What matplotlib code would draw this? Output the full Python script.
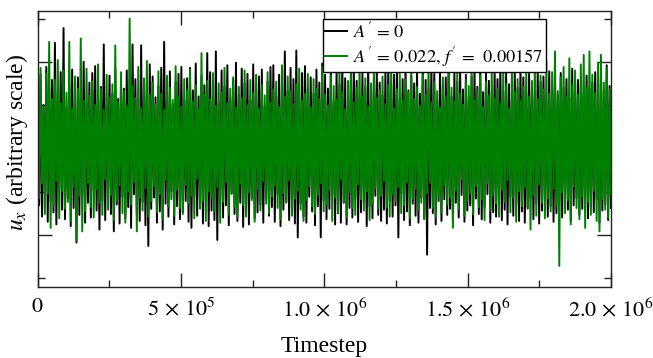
import numpy as np
import matplotlib
matplotlib.use("Agg")
import matplotlib.pyplot as plt
from matplotlib.ticker import MultipleLocator, FixedLocator

# ---- data (per-bin extremes, arbitrary units) ----
n_bins = 200
t_max = 2.0e6

green_hi = [
    0.71, 0.93, 0.48, 0.86, 1.23, 0.57, 0.79, 1.02, 0.52, 0.90,
    0.64, 1.23, 0.46, 0.83, 0.69, 1.27, 0.55, 0.92, 0.61, 0.77,
    0.50, 0.97, 0.68, 0.45, 0.85, 0.59, 0.74, 1.19, 0.53, 0.88,
    0.66, 0.49, 1.50, 0.72, 0.58, 0.94, 0.47, 0.81, 1.01, 0.62,
    0.76, 0.51, 0.89, 0.63, 0.45, 0.84, 0.70, 0.56, 0.95, 0.60,
    0.48, 0.80, 0.67, 0.91, 0.54, 0.73, 0.46, 1.10, 0.62, 0.78,
    0.57, 0.87, 0.49, 0.75, 0.65, 0.93, 0.52, 0.69, 0.82, 0.47,
    0.71, 0.58, 0.90, 0.50, 0.79, 0.64, 0.85, 0.46, 0.73, 0.61,
    0.88, 0.53, 0.68, 0.77, 0.48, 0.96, 0.59, 0.83, 0.66, 0.51,
    0.74, 0.92, 0.55, 0.63, 0.86, 0.47, 0.80, 0.69, 0.57, 0.94,
    0.62, 0.49, 0.84, 0.72, 0.56, 0.91, 0.65, 0.45, 0.78, 0.87,
    0.53, 0.70, 0.97, 0.60, 0.81, 0.48, 0.75, 0.89, 0.58, 0.67,
    0.83, 0.51, 0.73, 0.94, 0.46, 0.68, 0.86, 0.55, 0.79, 0.64,
    0.90, 0.57, 0.71, 0.49, 0.85, 0.62, 0.98, 0.53, 0.76, 0.66,
    0.47, 0.82, 0.60, 0.92, 0.70, 0.54, 0.88, 0.63, 0.50, 0.79,
    0.72, 0.95, 0.56, 0.67, 0.84, 0.48, 0.77, 0.61, 0.89, 0.58,
    0.69, 0.52, 0.87, 0.74, 0.46, 0.93, 0.65, 0.80, 0.55, 0.71,
    0.91, 0.60, 0.78, 0.99, 0.57, 0.84, 0.68, 1.02, 0.63, 0.88,
    1.12, 0.66, 0.82, 0.94, 0.59, 1.04, 0.73, 0.90, 0.62, 0.97,
    1.08, 0.70, 1.12, 0.85, 0.64, 0.99, 1.08, 0.76, 0.93, 0.68,
]
green_lo = [
    -0.58, -0.41, -0.76, -0.52, -0.92, -0.66, -0.38, -0.81, -0.49, -0.70,
    -0.62, -0.84, -0.45, -1.07, -0.55, -0.96, -0.73, -0.40, -0.68, -0.80,
    -0.47, -0.63, -0.77, -0.36, -0.71, -0.54, -0.83, -0.60, -0.43, -0.75,
    -0.86, -0.50, -0.65, -0.39, -0.96, -0.57, -0.72, -0.46, -0.79, -0.61,
    -0.44, -0.74, -0.53, -0.82, -0.37, -0.67, -0.59, -0.78, -0.48, -0.69,
    -0.76, -0.42, -0.64, -0.55, -0.81, -0.35, -0.70, -0.61, -0.84, -0.50,
    -0.57, -0.73, -0.45, -0.86, -0.62, -0.39, -0.77, -0.53, -0.68, -0.80,
    -0.41, -0.66, -0.79, -0.51, -0.60, -0.85, -0.47, -0.72, -0.38, -0.64,
    -0.75, -0.56, -0.43, -0.69, -0.82, -0.52, -0.63, -0.37, -0.78, -0.58,
    -0.49, -0.71, -0.84, -0.60, -0.44, -0.67, -0.76, -0.54, -0.40, -0.73,
    -0.65, -0.48, -0.84, -0.57, -0.74, -0.36, -0.62, -0.80, -0.51, -0.69,
    -0.77, -0.42, -0.59, -0.72, -0.50, -0.83, -0.64, -0.46, -0.70, -0.55,
    -0.38, -0.68, -0.79, -0.53, -0.61, -0.45, -0.75, -0.66, -0.39, -0.81,
    -0.58, -0.47, -0.71, -0.63, -0.82, -0.52, -0.40, -0.69, -0.80, -0.56,
    -0.74, -0.43, -0.65, -0.57, -0.92, -0.49, -0.70, -0.36, -0.78, -0.61,
    -0.52, -0.76, -0.44, -0.68, -0.59, -0.83, -0.41, -0.72, -0.55, -0.64,
    -0.79, -0.48, -0.62, -0.37, -0.74, -0.57, -0.85, -0.50, -0.67, -0.45,
    -0.70, -0.94, -0.54, -0.78, -0.42, -0.63, -0.81, -0.58, -0.73, -0.47,
    -0.66, -1.36, -0.51, -0.75, -0.60, -0.88, -0.44, -0.69, -0.82, -0.56,
    -0.92, -0.62, -0.77, -0.49, -0.84, -0.96, -0.58, -0.71, -0.80, -0.53,
]
black_hi = [
    0.62, 0.85, 0.50, 0.94, 0.68, 0.79, 1.22, 0.55, 0.88, 1.39,
    0.47, 0.73, 0.91, 0.58, 0.82, 0.66, 1.00, 0.52, 0.76, 0.87,
    0.95, 0.60, 0.71, 1.20, 0.49, 0.84, 0.63, 0.92, 0.57, 0.78,
    0.69, 0.90, 0.54, 1.20, 0.80, 0.46, 1.19, 0.74, 0.61, 0.97,
    0.83, 0.59, 0.72, 0.93, 1.23, 0.65, 0.89, 0.51, 0.77, 0.86,
    0.94, 0.56, 0.81, 0.93, 0.67, 0.98, 0.60, 0.84, 0.73, 1.10,
    0.88, 0.64, 1.12, 0.52, 0.90, 0.71, 0.96, 0.58, 0.79, 0.99,
    0.62, 0.92, 0.75, 0.86, 0.55, 0.97, 0.68, 0.83, 0.91, 0.49,
    0.77, 0.94, 0.96, 0.60, 0.85, 0.72, 1.12, 0.66, 0.93, 0.80,
    1.13, 0.57, 0.87, 0.95, 0.70, 0.82, 0.63, 0.91, 0.76, 0.98,
    0.85, 0.69, 0.93, 0.54, 0.89, 0.74, 0.97, 0.81, 0.62, 0.90,
    0.95, 0.78, 0.58, 0.87, 0.71, 0.99, 0.64, 0.83, 0.92, 0.76,
    0.61, 0.89, 0.96, 0.72, 0.85, 0.93, 0.57, 0.80, 0.98, 0.67,
    0.84, 0.75, 0.91, 0.63, 0.97, 0.79, 0.69, 0.94, 0.86, 0.55,
    0.90, 0.73, 0.82, 0.95, 0.60, 0.88, 0.77, 0.93, 0.68, 0.85,
    0.59, 0.83, 0.92, 0.71, 0.96, 0.65, 0.87, 0.78, 0.62, 0.91,
    0.80, 0.95, 0.66, 0.88, 0.74, 0.57, 0.90, 0.70, 0.94, 0.82,
    0.64, 0.86, 0.72, 0.59, 0.91, 0.77, 0.83, 0.55, 0.89, 0.68,
    0.75, 0.62, 0.87, 0.70, 0.80, 0.58, 0.92, 0.66, 0.79, 0.73,
    0.61, 0.84, 0.69, 0.76, 0.88, 0.57, 0.81, 0.65, 0.96, 0.72,
]
black_lo = [
    -0.66, -0.79, -0.52, -0.85, -0.61, -0.74, -0.88, -0.47, -0.71, -0.82,
    -0.58, -0.90, -0.69, -1.09, -0.77, -0.54, -0.86, -0.63, -0.80, -0.49,
    -0.72, -0.94, -0.60, -0.83, -0.45, -0.76, -0.96, -0.65, -0.87, -0.56,
    -0.81, -0.68, -0.92, -0.53, -0.75, -0.84, -0.62, -0.89, -1.13, -0.70,
    -0.57, -0.86, -0.73, -0.94, -0.64, -0.79, -0.50, -0.88, -0.67, -0.82,
    -0.74, -0.61, -0.85, -0.92, -0.55, -0.78, -0.69, -0.87, -0.60, -0.90,
    -0.72, -0.83, -1.06, -0.58, -0.80, -0.66, -0.89, -0.52, -0.76, -0.84,
    -0.63, -0.91, -0.70, -0.88, -0.57, -0.81, -0.74, -0.65, -0.86, -0.59,
    -0.78, -0.68, -0.85, -0.53, -0.90, -0.71, -0.62, -0.83, -0.75, -0.87,
    -1.03, -0.64, -0.79, -0.86, -0.56, -0.73, -0.89, -0.67, -1.03, -0.60,
    -0.82, -0.70, -0.54, -0.88, -0.75, -0.86, -0.63, -0.88, -0.69, -0.80,
    -0.58, -0.85, -0.74, -0.62, -0.90, -0.67, -0.81, -0.55, -0.77, -0.84,
    -0.71, -0.87, -0.60, -0.79, -0.66, -1.03, -0.52, -0.83, -0.73, -0.89,
    -0.64, -0.78, -0.86, -0.57, -0.81, -1.23, -0.69, -0.75, -0.88, -0.61,
    -0.84, -0.59, -0.77, -0.70, -0.87, -0.63, -0.80, -0.54, -0.85, -0.72,
    -0.66, -0.89, -0.58, -0.76, -0.82, -0.68, -0.53, -0.86, -0.74, -0.79,
    -0.61, -0.83, -0.71, -0.88, -0.56, -0.78, -0.65, -0.84, -0.73, -0.86,
    -0.69, -0.57, -0.82, -0.64, -0.87, -0.72, -0.60, -0.79, -0.67, -0.85,
    -0.75, -0.62, -0.80, -0.55, -0.71, -0.84, -0.66, -0.58, -0.77, -0.70,
    -0.63, -0.81, -0.68, -0.74, -0.59, -0.86, -0.72, -0.65, -0.83, -0.69,
]

label_black = r"$A^{\prime}\,=\,0$"
label_green = r"$A^{\prime}\,=\,0.022,\, f^{\prime}\,=\;\, 0.00157$"
xtick_values = [0, 5e5, 1.0e6, 1.5e6, 2.0e6]
xtick_labels = [r"$0$", r"$5\,\times\,10^{5}$", r"$1.0\,\times\,10^{6}$",
                r"$1.5\,\times\,10^{6}$", r"$2.0\,\times\,10^{6}$"]

# ---- build zig-zag series from per-bin extremes ----
def zigzag(hi, lo):
    return np.column_stack([np.asarray(hi), np.asarray(lo)]).ravel()

timesteps = np.linspace(0, t_max, 2 * n_bins)
y_black = zigzag(black_hi, black_lo)
y_green = zigzag(green_hi, green_lo)

# ---- style ----
plt.rcParams['font.family'] = ['Liberation Serif', 'DejaVu Serif']
plt.rcParams['mathtext.fontset'] = 'stix'
plt.rcParams['font.size'] = 16
plt.rcParams['path.simplify'] = False

fig = plt.figure(figsize=(6.53, 3.58), dpi=100)
ax = fig.add_axes([0.0577, 0.1992, 0.878, 0.7708])

ax.plot(timesteps, y_black, color='black', lw=1.4, label=label_black,
        snap=False)
ax.plot(timesteps, y_green, color='#008000', lw=1.4, label=label_green,
        snap=False)

ax.set_xlim(0, t_max)
ax.set_ylim(-1.6, 1.59)

ax.xaxis.set_major_locator(FixedLocator(xtick_values))
ax.set_xticklabels(xtick_labels)
ax.xaxis.set_minor_locator(MultipleLocator(2.5e5))
ax.yaxis.set_major_locator(MultipleLocator(1.0))
ax.yaxis.set_minor_locator(MultipleLocator(0.5))
ax.set_yticklabels([])

ax.tick_params(which='both', direction='in', top=True, right=True,
               width=1.0, color='#222222')
ax.tick_params(which='major', length=10, pad=8)
ax.tick_params(which='minor', length=5)
for s in ax.spines.values():
    s.set_linewidth(1.0)
    s.set_color('#222222')

ax.set_xlabel("Timestep", fontsize=17, labelpad=11)
ax.set_ylabel(r"$u_x$ (arbitrary scale)", fontsize=17)
ax.yaxis.set_label_coords(-0.013, 0.524)

leg = ax.legend(loc='upper right', bbox_to_anchor=(0.886, 0.97),
                borderaxespad=0, fancybox=False, framealpha=1,
                edgecolor='black', handlelength=1.2, handletextpad=0.3,
                labelspacing=0.2, borderpad=0.15, fontsize=13.2)
leg.get_frame().set_linewidth(1.0)

fig.savefig("out.png", dpi=100)
